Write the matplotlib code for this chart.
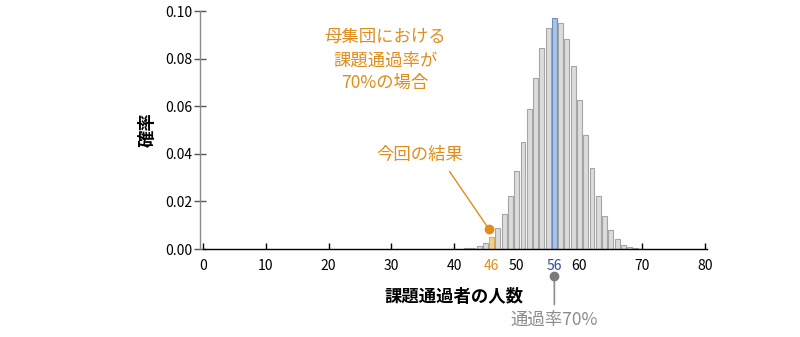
import matplotlib.pyplot as plt
from matplotlib.transforms import offset_copy

plt.rcParams["font.family"] = ["Noto Sans CJK JP", "DejaVu Sans"]

# values
COUNTS = list(range(40, 71))
PROBS = [
    0.0000, 0.0001, 0.0003, 0.0006, 0.0013, 0.0027, 0.0050, 0.0087,
    0.0146, 0.0224, 0.0326, 0.0448, 0.0587, 0.0721, 0.0843, 0.0931,
    0.0969, 0.0952, 0.0882, 0.0768, 0.0626, 0.0479, 0.0339, 0.0225,
    0.0139, 0.0080, 0.0041, 0.0019, 0.0008, 0.0003, 0.0001,
]
OBSERVED = 46
EXPECTED = 56
X_TICKS = [0, 10, 20, 30, 40, 46, 50, 56, 60, 70, 80]
Y_TICKS = [0.00, 0.02, 0.04, 0.06, 0.08, 0.10]

ORANGE = "#e08d1c"
BLUE = "#2b4c9b"
GRAY_TEXT = "#8c8c8c"


def bar_style(count):
    if count == EXPECTED:
        return "#a7c3e6", "#6e8fc2"
    if count == OBSERVED:
        return "#f2cf98", "#e3aa55"
    return "#dcdcdc", "#a5a5a5"


def main():
    fig = plt.figure(figsize=(8, 3.37), dpi=100)
    ax = fig.add_axes([0.25, 0.261, 0.635, 0.706])

    colors = [bar_style(c) for c in COUNTS]
    ax.bar(
        COUNTS,
        PROBS,
        width=0.78,
        color=[c[0] for c in colors],
        edgecolor=[c[1] for c in colors],
        linewidth=0.8,
        zorder=2,
    )

    ax.set_xlim(-0.5, 80.5)
    ax.set_ylim(0, 0.10)

    for side in ("top", "right"):
        ax.spines[side].set_visible(False)
    ax.spines["left"].set_color("#8a8a8a")
    ax.spines["left"].set_linewidth(1.0)
    ax.spines["bottom"].set_bounds(0, 80.3)
    ax.spines["bottom"].set_linewidth(1.0)

    ax.set_xticks(X_TICKS)
    ax.set_xticklabels([str(t) for t in X_TICKS])
    ax.tick_params(axis="x", direction="in", length=4, width=1, pad=7, labelsize=10)
    for label, tick in zip(ax.get_xticklabels(), X_TICKS):
        if tick == OBSERVED:
            label.set_color(ORANGE)
        elif tick == EXPECTED:
            label.set_color(BLUE)

    ax.set_yticks(Y_TICKS)
    ax.set_yticklabels([f"{t:.2f}" for t in Y_TICKS])
    ax.tick_params(axis="y", direction="inout", length=9, width=1, pad=1,
                   labelsize=10, color="#555555")

    ax.set_xlabel("課題通過者の人数", fontsize=12.5, fontweight="bold")
    ax.xaxis.set_label_coords(0.5, -0.165)
    ax.set_ylabel("確率", fontsize=12.5, fontweight="bold")
    ax.yaxis.set_label_coords(-0.086, 0.5)

    ax.text(29.0, 0.0794, "母集団における\n課題通過率が\n70%の場合",
            ha="center", va="center", fontsize=12.5, color=ORANGE,
            linespacing=1.35)

    # observed result callout
    ax.annotate(
        "今回の結果",
        xy=(45.6, 0.0083),
        xytext=(34.6, 0.0395),
        ha="center", va="center", fontsize=12.5, color=ORANGE,
        arrowprops=dict(arrowstyle="-", color=ORANGE, lw=1.0,
                        relpos=(0.78, 0), shrinkA=4, shrinkB=0),
    )
    ax.plot([45.6], [0.0083], "o", color=ORANGE, markersize=6, zorder=3)

    # expected value marker below the axis
    dot_pos = offset_copy(ax.transData, fig=fig, y=-19.5, units="points")
    line_end = offset_copy(ax.transData, fig=fig, y=-40, units="points")
    ax.annotate(
        "",
        xy=(EXPECTED, 0), xycoords=line_end,
        xytext=(EXPECTED, 0), textcoords=dot_pos,
        arrowprops=dict(arrowstyle="-", color=GRAY_TEXT, lw=1.2,
                        shrinkA=0, shrinkB=0),
        annotation_clip=False,
    )
    ax.plot([EXPECTED], [0], "o", color="#7a7a7a", markersize=6,
            transform=dot_pos, clip_on=False, zorder=4)
    ax.annotate(
        "通過率70%",
        xy=(EXPECTED, 0), xycoords="data",
        xytext=(0, -51), textcoords="offset points",
        ha="center", va="center", fontsize=12.5, color=GRAY_TEXT,
        annotation_clip=False,
    )

    fig.savefig("out.png", dpi=100)
    plt.close(fig)


if __name__ == "__main__":
    main()
